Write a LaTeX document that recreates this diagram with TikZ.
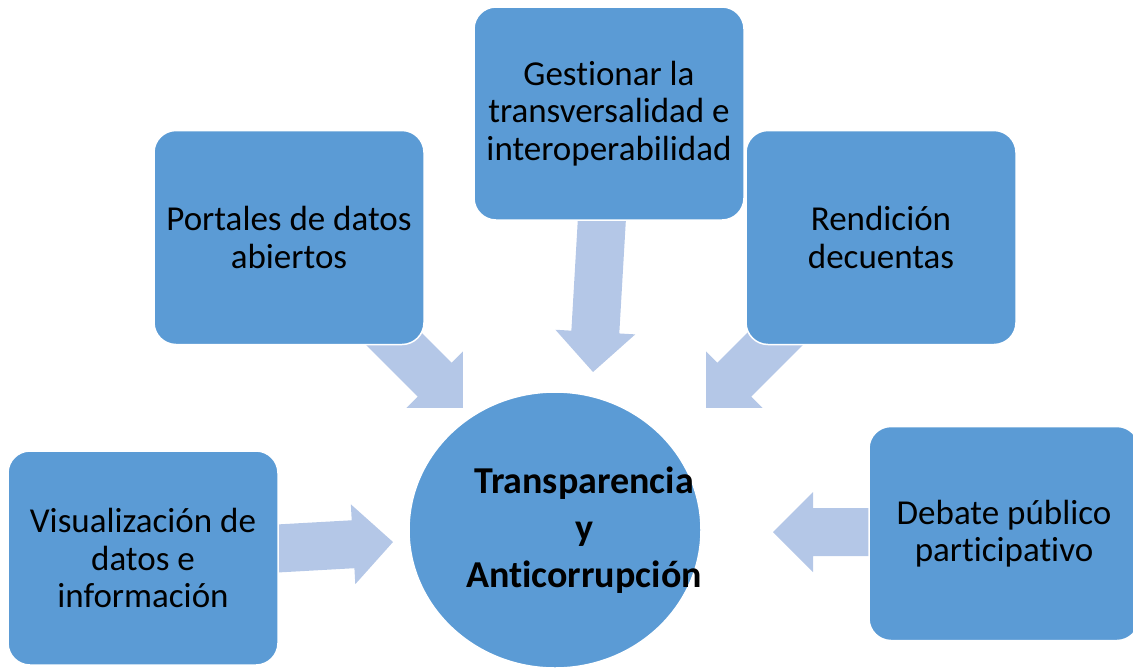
\documentclass[tikz,border=0pt]{standalone}
\usepackage{fontspec}
\setmainfont[Ligatures=NoCommon]{Carlito}
\usetikzlibrary{calc}
\definecolor{boxc}{HTML}{5B9BD5}
\definecolor{arrowc}{HTML}{B4C7E7}
\tikzset{
  box/.style={draw=white, line width=1.5pt, fill=boxc, rounded corners=22pt,
    minimum width=270pt, minimum height=214pt, align=center, inner sep=0pt,
    font=\fontsize{35}{37.5}\selectfont, text=black},
  blockfill/.style={fill=arrowc}
}
\newcommand{\blockarrow}[2]{%
  \fill[blockfill] let \p1=(#1), \p2=(#2),
    \n1={atan2(\y2-\y1,\x2-\x1)}, \n2={veclen(\x2-\x1,\y2-\y1)} in
    [shift={(\p1)}, rotate=\n1]
    (0pt,-24pt) -- ({(\n2-40)*1pt},-24pt) -- ({(\n2-40)*1pt},-40pt) --
    ({\n2*1pt},0pt) -- ({(\n2-40)*1pt},40pt) -- ({(\n2-40)*1pt},24pt) --
    (0pt,24pt) -- cycle;}
\begin{document}
\begin{tikzpicture}[x=1pt,y=-1pt]
\useasboundingbox (0,0) rectangle (1133,670);
% arrow anchors
\coordinate (a1s) at (268,549);
\coordinate (a1e) at (393,542);
\coordinate (a2s) at (380,325);
\coordinate (a2e) at (463,408);
\coordinate (a3s) at (603,200);
\coordinate (a3e) at (593,372);
\coordinate (a4s) at (789,325);
\coordinate (a4e) at (706,408);
\coordinate (a5s) at (880,532);
\coordinate (a5e) at (773,532);
\blockarrow{a1s}{a1e}
\blockarrow{a2s}{a2e}
\blockarrow{a3s}{a3e}
\blockarrow{a4s}{a4e}
\blockarrow{a5s}{a5e}
% boxes
\node[box] (portales) at (289,237.5) {Portales de datos\\abiertos};
\node[box, minimum height=213pt] (gestionar) at (609,113.5) {Gestionar la\\transversalidad e\\interoperabilidad};
\node[box] (rendicion) at (881,237.5) {Rendición\\decuentas};
\node[box] (visual) at (143,558) {Visualización de\\datos e\\información};
\node[box] (debate) at (1004,533.5) {Debate público\\participativo};
% hub
\fill[boxc, draw=white, line width=1.5pt] (555,530) ellipse [x radius=146pt, y radius=138pt];
\node[align=center, font=\fontsize{38}{47}\selectfont\bfseries, text=black] (hub) at (584,530)
  {Transparencia\\y\\Anticorrupción};
\end{tikzpicture}
\end{document}
